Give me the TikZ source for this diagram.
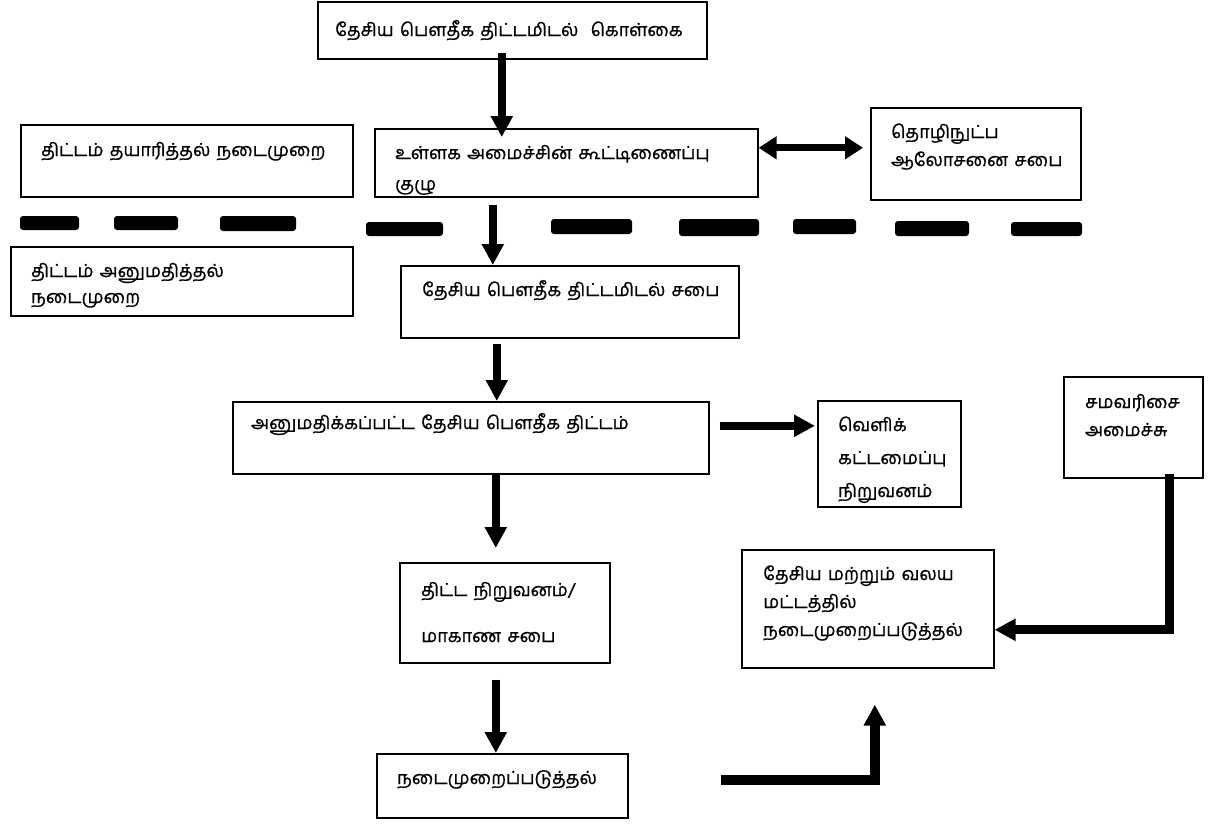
\documentclass[tikz,border=0pt]{standalone}
\usepackage{fontspec}
\setmainfont[Script=Tamil,FakeBold=0.8,WordSpace=1.4]{Hind Madurai}
\usetikzlibrary{arrows.meta,positioning}

\begin{document}
\begin{tikzpicture}
[
x=1pt,y=-1pt,
box/.style={draw,line width=1.6pt,anchor=north west,inner sep=0pt},
txt/.style={inner sep=0pt,align=left,font=\fontsize{18}{28}\selectfont},
arr/.style={line width=8pt,-{Triangle[width=21pt,length=21pt]}},
biarr/.style={line width=7pt,{Triangle[width=22pt,length=18pt]}-{Triangle[width=22pt,length=18pt]}},
bar/.style={fill=black,rounded corners=3pt},
]
\useasboundingbox (0,0) rectangle (1221,825);

% Boxes
\node[box,minimum width=389pt,minimum height=57pt] (policy) at (317,1) {};
\node[box,minimum width=332pt,minimum height=72pt] (prep) at (20,124) {};
\node[box,minimum width=383pt,minimum height=68pt] (coord) at (374,128) {};
\node[box,minimum width=210pt,minimum height=92pt] (tech) at (870,107) {};
\node[box,minimum width=342pt,minimum height=69pt] (appr) at (10,246) {};
\node[box,minimum width=338pt,minimum height=72pt] (council) at (400,265) {};
\node[box,minimum width=476pt,minimum height=72pt] (plan) at (232,401) {};
\node[box,minimum width=143pt,minimum height=106pt] (ext) at (817,400) {};
\node[box,minimum width=139pt,minimum height=101pt] (ministry) at (1063,376) {};
\node[box,minimum width=210pt,minimum height=100pt] (prov) at (399,562) {};
\node[box,minimum width=251pt,minimum height=64pt] (impl) at (376,753) {};
\node[box,minimum width=252pt,minimum height=118pt] (natimpl) at (741,549) {};

% Texts (base = last line)
\node[txt,below right=35pt and 18pt of policy.north west,anchor=base west] (policyT) {தேசிய பௌதீக திட்டமிடல்~~கொள்கை};
\node[txt,below right=32pt and 21pt of prep.north west,anchor=base west] (prepT) {திட்டம் தயாரித்தல் நடைமுறை};
\node[txt,below right=62pt and 21pt of coord.north west,anchor=base west] (coordT) {உள்ளக அமைச்சின் கூட்டிணைப்பு\\[3pt]குழு};
\node[txt,below right=59pt and 21pt of tech.north west,anchor=base west] (techT) {தொழிநுட்ப\\ஆலோசனை சபை};
\node[txt,below right=57pt and 21pt of appr.north west,anchor=base west] (apprT) {திட்டம் அனுமதித்தல்\\[-2pt]நடைமுறை};
\node[txt,below right=31pt and 22pt of council.north west,anchor=base west] (councilT) {தேசிய பௌதீக திட்டமிடல் சபை};
\node[txt,below right=28pt and 19pt of plan.north west,anchor=base west] (planT) {அனுமதிக்கப்பட்ட தேசிய பௌதீக திட்டம்};
\node[txt,below right=97pt and 21pt of ext.north west,anchor=base west] (extT) {வெளிக்\\[5pt]கட்டமைப்பு\\[5pt]நிறுவனம்};
\node[txt,below right=60pt and 22pt of ministry.north west,anchor=base west] (ministryT) {சமவரிசை\\அமைச்சு};
\node[txt,below right=80pt and 22pt of prov.north west,anchor=base west] (provT) {திட்ட நிறுவனம்/\\[18pt]மாகாண சபை};
\node[txt,below right=31pt and 21pt of impl.north west,anchor=base west] (implT) {நடைமுறைப்படுத்தல்};
\node[txt,below right=87pt and 22pt of natimpl.north west,anchor=base west] (natimplT) {தேசிய மற்றும் வலய\\மட்டத்தில்\\நடைமுறைப்படுத்தல்};

% Divider
\fill[bar] (20,216) rectangle (79,230);
\fill[bar] (114,216) rectangle (178,230);
\fill[bar] (220,216) rectangle (296,231);
\fill[bar] (366,222) rectangle (443,236);
\fill[bar] (551,219) rectangle (632,234);
\fill[bar] (679,219) rectangle (759,236);
\fill[bar] (793,219) rectangle (856,234);
\fill[bar] (895,221) rectangle (969,236);
\fill[bar] (1011,222) rectangle (1082,236);

% Arrows
\coordinate (aPolicy) at ([xshift=-10.5pt]policy.south);
\coordinate (aCoord) at ([xshift=-73.5pt]coord.south);
\coordinate (aCouncil) at ([xshift=-73pt]council.south);
\coordinate (aPlan) at ([xshift=25pt]plan.south);
\coordinate (aProv) at ([xshift=-9pt]prov.south);
\coordinate (aExt) at ([yshift=12pt]plan.east);
\coordinate (aTech) at ([yshift=15pt]coord.east);
\coordinate (aMin) at ([xshift=36.5pt]ministry.south);
\coordinate (bMin) at ([yshift=-21pt]natimpl.east);
\coordinate (aImpl) at ([xshift=92pt,yshift=6pt]impl.east);
\coordinate (bImpl) at ([xshift=7pt]natimpl.south);

\draw[arr,shorten <=-7pt,shorten >=-9pt] (aPolicy) -- (aPolicy |- coord.north);
\draw[arr,shorten <=7pt] (aCoord) -- (aCoord |- council.north);
\draw[arr,shorten <=5pt] (aCouncil) -- (aCouncil |- plan.north);
\draw[arr,shorten <=-1pt,shorten >=14pt] (aPlan) -- (aPlan |- prov.north);
\draw[arr,shorten <=16pt] (aProv) -- (aProv |- impl.north);
\draw[arr,shorten <=10pt,shorten >=2pt] (aExt) -- (aExt -| ext.west);
\draw[biarr,shorten >=7pt] (aTech) -- (aTech -| tech.west);
\draw[arr,line width=9pt,shorten <=-5pt] (aMin) |- (bMin);
\draw[arr,line width=10pt,shorten >=36pt] (aImpl) -| (bImpl);

\end{tikzpicture}
\end{document}
